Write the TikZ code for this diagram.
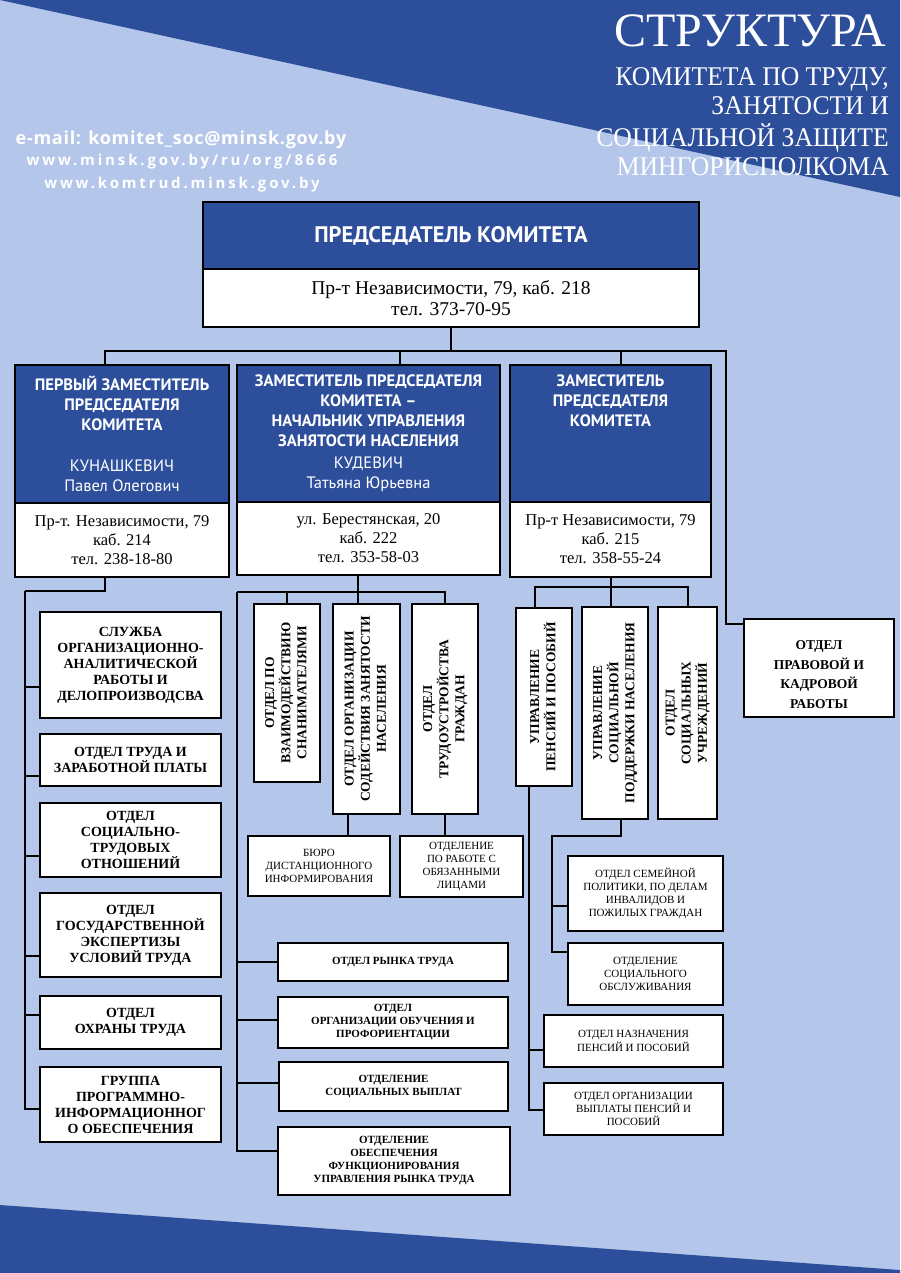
\documentclass[tikz,border=0pt]{standalone}
\usepackage{fontspec}
\setmainfont{Liberation Serif}
\newfontfamily\headfont{PT Sans}
\newfontfamily\mailfont[LetterSpace=4]{Open Sans}
\newfontfamily\webfont[LetterSpace=19]{Open Sans}
\usetikzlibrary{calc}
\definecolor{bgdark}{RGB}{45,78,155}
\definecolor{bglight}{RGB}{180,198,233}
\newcommand{\vtext}[1]{\rotatebox{90}{\begin{tabular}{@{}c@{}}#1\end{tabular}}}

\begin{document}
\begin{tikzpicture}[x=1pt,y=-1pt]
	\tikzstyle{box}=[draw=black, line width=1.8pt, fill=white, outer sep=0pt, inner sep=1pt, align=center, anchor=north west]
	\tikzstyle{head}=[box, fill=bgdark, text=white, font=\headfont\bfseries\fontsize{16.5}{20}\selectfont]
	\tikzstyle{addr}=[box, anchor=north, font=\fontsize{16.5}{19}\selectfont]
	\tikzstyle{unit}=[box, font=\bfseries\fontsize{14}{16}\selectfont]
	\tikzstyle{vunit}=[box, font=\bfseries\fontsize{13.5}{16}\selectfont]
	\tikzstyle{small}=[box, font=\bfseries\fontsize{11}{13}\selectfont]
	\tikzstyle{plain}=[box, font=\fontsize{11}{13.3}\selectfont]
	\tikzstyle{title}=[text=white, inner sep=0pt, anchor=north east]
	\tikzstyle{web}=[text=white, inner sep=0pt, anchor=base]
	\tikzstyle{conn}=[line width=2pt, black]

	\useasboundingbox (0,0) rectangle (900,1273);
	\fill [bglight] (0,0) rectangle (900,1273);
	\fill [bgdark] (0,0) -- (900,0) -- (900,197) -- cycle;
	\fill [bgdark] (0,1205) -- (900,1270) -- (900,1273) -- (0,1273) -- cycle;

	\node [title, anchor=base east, font=\fontsize{48}{50}\selectfont] (ttl) at (886,47) {СТРУКТУРА};
	\node [title, font=\fontsize{27}{29}\selectfont] (sub) at (889,65) {\scalebox{0.95}[1]{\begin{tabular}{@{}r@{}}КОМИТЕТА ПО ТРУДУ,\\ЗАНЯТОСТИ И\\СОЦИАЛЬНОЙ ЗАЩИТЕ\\МИНГОРИСПОЛКОМА\end{tabular}}};
	\node [web, font=\mailfont\bfseries\fontsize{18}{20}\selectfont] (mail) at (181,145) {e-mail: komitet\_soc@minsk.gov.by};
	\node [web, font=\webfont\bfseries\fontsize{15}{18}\selectfont] (www1) at (182,166) {www.minsk.gov.by/ru/org/8666};
	\node [web, font=\webfont\bfseries\fontsize{15}{18}\selectfont] (www2) at (182,189) {www.komtrud.minsk.gov.by};

	\node [head, minimum width=496, minimum height=67, font=\headfont\bfseries\fontsize{22.5}{24}\selectfont] (ch) at (203,202) {ПРЕДСЕДАТЕЛЬ КОМИТЕТА};
	\node [addr, minimum width=496, minimum height=58, font=\fontsize{19.5}{20.5}\selectfont] (cha) at (ch.south) {Пр-т Независимости, 79, каб. 218\\тел. 373-70-95};

	\node [head, minimum width=214, minimum height=138] (d1) at (15,365) {ПЕРВЫЙ ЗАМЕСТИТЕЛЬ\\ПРЕДСЕДАТЕЛЯ\\КОМИТЕТА\\[21pt]{\mdseries КУНАШКЕВИЧ}\\{\mdseries Павел Олегович}};
	\node [addr, minimum width=214, minimum height=74] (d1a) at (d1.south) {Пр-т. Независимости, 79\\каб. 214\\тел. 238-18-80};
	\node [head, minimum width=263, minimum height=137] (d2) at (237,365) {ЗАМЕСТИТЕЛЬ ПРЕДСЕДАТЕЛЯ\\КОМИТЕТА –\\НАЧАЛЬНИК УПРАВЛЕНИЯ\\ЗАНЯТОСТИ НАСЕЛЕНИЯ\\[2pt]{\mdseries КУДЕВИЧ}\\{\mdseries Татьяна Юрьевна}};
	\node [addr, minimum width=263, minimum height=73] (d2a) at (d2.south) {ул. Берестянская, 20\\каб. 222\\тел. 353-58-03};
	\node [head, minimum width=201, minimum height=137] (d3) at (510,365) {ЗАМЕСТИТЕЛЬ\\ПРЕДСЕДАТЕЛЯ\\КОМИТЕТА\\[40pt]\strut};
	\node [addr, minimum width=201, minimum height=75] (d3a) at (d3.south) {Пр-т Независимости, 79\\каб. 215\\тел. 358-55-24};
	\node [vunit, minimum width=150, minimum height=98, font=\bfseries\fontsize{13.5}{19.5}\selectfont] (pk) at (744,619) {\mbox{}\\[2.4pt]ОТДЕЛ\\ПРАВОВОЙ И\\КАДРОВОЙ\\РАБОТЫ};

	\node [unit, minimum width=181, minimum height=106] (l1) at (40,612) {СЛУЖБА\\ОРГАНИЗАЦИОННО-\\АНАЛИТИЧЕСКОЙ\\РАБОТЫ И\\ДЕЛОПРОИЗВОДСВА};
	\node [unit, minimum width=181, minimum height=52] (l2) at (40,734) {ОТДЕЛ ТРУДА И\\ЗАРАБОТНОЙ ПЛАТЫ};
	\node [unit, minimum width=181, minimum height=74] (l3) at (40,803) {ОТДЕЛ\\СОЦИАЛЬНО-\\ТРУДОВЫХ\\ОТНОШЕНИЙ};
	\node [unit, minimum width=181, minimum height=84] (l4) at (40,893) {ОТДЕЛ\\ГОСУДАРСТВЕННОЙ\\ЭКСПЕРТИЗЫ\\УСЛОВИЙ ТРУДА};
	\node [unit, minimum width=181, minimum height=53] (l5) at (40,996) {ОТДЕЛ\\ОХРАНЫ ТРУДА};
	\node [unit, minimum width=181, minimum height=75] (l6) at (40,1067) {ГРУППА\\ПРОГРАММНО-\\ИНФОРМАЦИОННОГ\\О ОБЕСПЕЧЕНИЯ};

	\node [vunit, minimum width=66, minimum height=178] (v1) at (254,604) {\vtext{ОТДЕЛ ПО\\ВЗАИМОДЕЙСТВИЮ\\СНАНИМАТЕЛЯМИ}};
	\node [vunit, minimum width=67, minimum height=210] (v2) at (333,604) {\vtext{ОТДЕЛ ОРГАНИЗАЦИИ\\СОДЕЙСТВИЯ ЗАНЯТОСТИ\\НАСЕЛЕНИЯ}};
	\node [vunit, minimum width=66, minimum height=210] (v3) at (412,604) {\vtext{ОТДЕЛ\\ТРУДОУСТРОЙСТВА\\ГРАЖДАН}};
	\node [plain, minimum width=142, minimum height=60] (bu) at (248,836) {БЮРО\\ДИСТАНЦИОННОГО\\ИНФОРМИРОВАНИЯ};
	\node [plain, minimum width=123, minimum height=61] (op) at (400,836) {ОТДЕЛЕНИЕ\\ПО РАБОТЕ С\\ОБЯЗАННЫМИ\\ЛИЦАМИ};
	\node [small, minimum width=230, minimum height=38] (m1) at (278,943) {ОТДЕЛ РЫНКА ТРУДА};
	\node [small, minimum width=230, minimum height=51] (m2) at (278,997) {ОТДЕЛ\\ОРГАНИЗАЦИИ ОБУЧЕНИЯ И\\ПРОФОРИЕНТАЦИИ};
	\node [small, minimum width=229, minimum height=49] (m3) at (279,1062) {ОТДЕЛЕНИЕ\\СОЦИАЛЬНЫХ ВЫПЛАТ};
	\node [small, minimum width=232, minimum height=68] (m4) at (278,1127) {ОТДЕЛЕНИЕ\\ОБЕСПЕЧЕНИЯ\\ФУНКЦИОНИРОВАНИЯ\\УПРАВЛЕНИЯ РЫНКА ТРУДА};

	\node [vunit, minimum width=56, minimum height=178] (v4) at (516,608) {\vtext{УПРАВЛЕНИЕ\\ПЕНСИЙ И ПОСОБИЙ}};
	\node [vunit, minimum width=66, minimum height=212] (v5) at (582,607) {\vtext{УПРАВЛЕНИЕ\\СОЦИАЛЬНОЙ\\ПОДДЕРЖКИ НАСЕЛЕНИЯ}};
	\node [vunit, minimum width=59, minimum height=212] (v6) at (658,607) {\vtext{ОТДЕЛ\\СОЦИАЛЬНЫХ\\УЧРЕЖДЕНИЙ}};
	\node [plain, minimum width=155, minimum height=75] (r1) at (568,856) {ОТДЕЛ СЕМЕЙНОЙ\\ПОЛИТИКИ, ПО ДЕЛАМ\\ИНВАЛИДОВ И\\ПОЖИЛЫХ ГРАЖДАН};
	\node [plain, minimum width=155, minimum height=62] (r2) at (568,943) {ОТДЕЛЕНИЕ\\СОЦИАЛЬНОГО\\ОБСЛУЖИВАНИЯ};
	\node [plain, minimum width=179, minimum height=52] (r3) at (544,1015) {ОТДЕЛ НАЗНАЧЕНИЯ\\ПЕНСИЙ И ПОСОБИЙ};
	\node [plain, minimum width=179, minimum height=52] (r4) at (544,1083) {ОТДЕЛ ОРГАНИЗАЦИИ\\ВЫПЛАТЫ ПЕНСИЙ И\\ПОСОБИЙ};

	\coordinate (rbend) at (726,351);
	\coordinate (d1t) at ($(d1.north west)!.42!(d1.north east)$);
	\coordinate (d2t) at ($(d2.north west)!.62!(d2.north east)$);
	\coordinate (d3t) at ($(d3.north west)!.55!(d3.north east)$);
	\draw [conn] (cha.south) -- (cha.south |- rbend);
	\draw [conn] (d1t) |- (rbend) |- ($(pk.north west)!.05!(pk.south west)$);
	\draw [conn] (d2t) -- (d2t |- rbend);
	\draw [conn] (d3t) -- (d3t |- rbend);

	\coordinate (d1b) at ($(d1a.south west)!.42!(d1a.south east)$);
	\coordinate (lspine) at (25,591);
	\draw [conn] (d1b) |- (lspine);
	\draw [conn] (lspine) |- ($(l1.north west)!.71!(l1.south west)$);
	\draw [conn] (lspine) |- ($(l2.north west)!.81!(l2.south west)$);
	\draw [conn] (lspine) |- ($(l3.north west)!.72!(l3.south west)$);
	\draw [conn] (lspine) |- ($(l4.north west)!.75!(l4.south west)$);
	\draw [conn] (lspine) |- ($(l5.north west)!.36!(l5.south west)$);
	\draw [conn] (lspine) |- ($(l6.north west)!.56!(l6.south west)$);

	\coordinate (d2b) at ($(d2a.south west)!.46!(d2a.south east)$);
	\coordinate (mspine) at (237,592);
	\draw [conn] (d2b) -- (d2b |- v2.north);
	\draw [conn] (mspine) -| (v3.north);
	\draw [conn] (v1.north |- mspine) -- (v1.north);
	\coordinate (v2b) at ($(v2.south west)!.22!(v2.south east)$);
	\draw [conn] (v2b) -- (v2b |- bu.north);
	\draw [conn] (v3.south) -- (v3.south |- op.north);
	\draw [conn] (mspine) |- ($(m1.north west)!.5!(m1.south west)$);
	\draw [conn] (mspine) |- ($(m2.north west)!.45!(m2.south west)$);
	\draw [conn] (mspine) |- ($(m3.north west)!.43!(m3.south west)$);
	\draw [conn] (mspine) |- ($(m4.north west)!.35!(m4.south west)$);

	\coordinate (v4t) at ($(v4.north west)!.34!(v4.north east)$);
	\coordinate (rbar) at (0,587);
	\draw [conn] (d3a.south) -- (d3a.south |- v5.north);
	\draw [conn] (v4t) -- (v4t |- rbar) -| (v6.north);
	\coordinate (v4b) at ($(v4.south west)!.23!(v4.south east)$);
	\draw [conn] (v4b) |- ($(r3.north west)!.67!(r3.south west)$);
	\draw [conn] (v4b) |- ($(r4.north west)!.52!(r4.south west)$);
	\coordinate (v5b) at ($(v5.south west)!.59!(v5.south east)$);
	\coordinate (sspine) at (552,836);
	\draw [conn] (v5b) |- (sspine) |- ($(r2.north west)!.15!(r2.south west)$);
	\draw [conn] (sspine) |- ($(r1.north west)!.67!(r1.south west)$);
\end{tikzpicture}
\end{document}
